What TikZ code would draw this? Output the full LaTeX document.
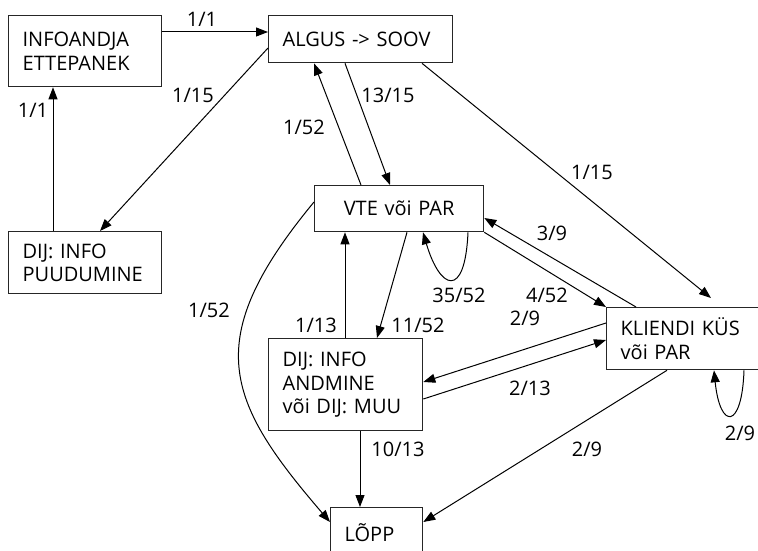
\documentclass[tikz,border=0pt]{standalone}
\usepackage{fontspec}
\setmainfont{Open Sans}
\usetikzlibrary{arrows.meta,calc}
\begin{document}
\begin{tikzpicture}[x=1pt,y=-1pt,
  box/.style={draw=black!85, line width=1.3pt, rectangle, anchor=north west,
    inner xsep=14pt, inner ysep=0pt, align=left, font=\fontsize{20}{23.5}\selectfont},
  lbl/.style={inner sep=0pt, font=\fontsize{20}{23.5}\selectfont},
  conn/.style={line width=1pt, -{Triangle[length=12pt,width=9pt]}},
  ]
\useasboundingbox (0,0) rectangle (758,551);
% boxes
\node[box, text width=125pt, minimum height=71pt] (info) at (8,15) {INFOANDJA\\ETTEPANEK};
\node[box, text width=156pt, minimum height=47pt] (algus) at (268,15) {ALGUS -> SOOV};
\node[box, text width=125pt, minimum height=62pt] (puud) at (8,231) {DIJ: INFO\\PUUDUMINE};
\node[box, text width=141pt, minimum height=46pt, align=center] (vte) at (314,185) {VTE või PAR};
\node[box, text width=132pt, minimum height=62pt] (klient) at (606,307) {KLIENDI KÜS\\või PAR};
\node[box, text width=126pt, minimum height=92pt] (andm) at (268,338) {DIJ: INFO\\ANDMINE\\või DIJ: MUU};
\node[box, text width=64pt, minimum height=50pt] (lopp) at (330,507) {LÕPP};
% connectors
\draw[conn] ($(info.north east)+(0,17)$) -- ($(algus.north west)+(0,17)$);
\draw[conn] ($(puud.north west)+(45,0)$) -- ($(info.south west)+(45,0)$);
\draw[conn] ($(algus.north west)+(0,33)$) -- ($(puud.north west)+(92,0)$);
\draw[conn] ($(vte.north west)+(47,0)$) -- ($(algus.south west)+(46,0)$);
\draw[conn] ($(algus.south west)+(77,0)$) -- ($(vte.north west)+(76,0)$);
\coordinate (kin) at ($(klient.north west)+(105,-9)$);
\draw[conn] ($(algus.south west)+(154,0)$) -- (kin);
\draw[conn] ($(klient.north west)+(30,0)$) -- ($(vte.north east)+(0,33)$);
\draw[conn] (vte.south east) -- (klient.north west);
\draw[conn] ($(vte.south west)+(154,0)$) .. controls (465,300) and (440,290) .. ($(vte.south west)+(109,0)$);
\draw[conn] ($(vte.south west)+(93,0)$) -- ($(andm.north west)+(109,0)$);
\draw[conn] ($(andm.north west)+(77,0)$) -- ($(vte.south west)+(31,0)$);
\draw[conn] ($(klient.north west)+(0,16)$) -- ($(andm.north east)+(0,44)$);
\draw[conn] ($(andm.north east)+(0,61)$) -- ($(klient.north west)+(0,33)$);
\draw[conn] ($(andm.south west)+(92,0)$) -- ($(lopp.north west)+(30,0)$);
\draw[conn] ($(klient.south west)+(61,0)$) -- ($(lopp.north east)+(0,15)$);
\draw[conn] ($(klient.south west)+(138,0)$) .. controls (742,430) and (720,430) .. ($(klient.south west)+(108,0)$);
\draw[conn] ($(vte.north west)+(0,17)$) .. controls (200,340) and (225,400) .. ($(lopp.north west)+(0,15)$);
% labels
\node[lbl] (l1) at (202,19) {1/1};
\node[lbl] (l2) at (33,110) {1/1};
\node[lbl] (l3) at (193,95) {1/15};
\node[lbl] (l4) at (304,127) {1/52};
\node[lbl] (l5) at (388,95) {13/15};
\node[lbl] (l6) at (592,172) {1/15};
\node[lbl] (l7) at (552,233) {3/9};
\node[lbl] (l8) at (459,295) {35/52};
\node[lbl] (l9) at (547,295) {4/52};
\node[lbl] (l10) at (316,325) {1/13};
\node[lbl] (l11) at (418,325) {11/52};
\node[lbl] (l12) at (209,310) {1/52};
\node[lbl] (l13) at (525,318) {2/9};
\node[lbl] (l14) at (530,388) {2/13};
\node[lbl] (l15) at (398,449) {10/13};
\node[lbl] (l16) at (587,449) {2/9};
\node[lbl] (l17) at (740,433) {2/9};
\end{tikzpicture}
\end{document}
